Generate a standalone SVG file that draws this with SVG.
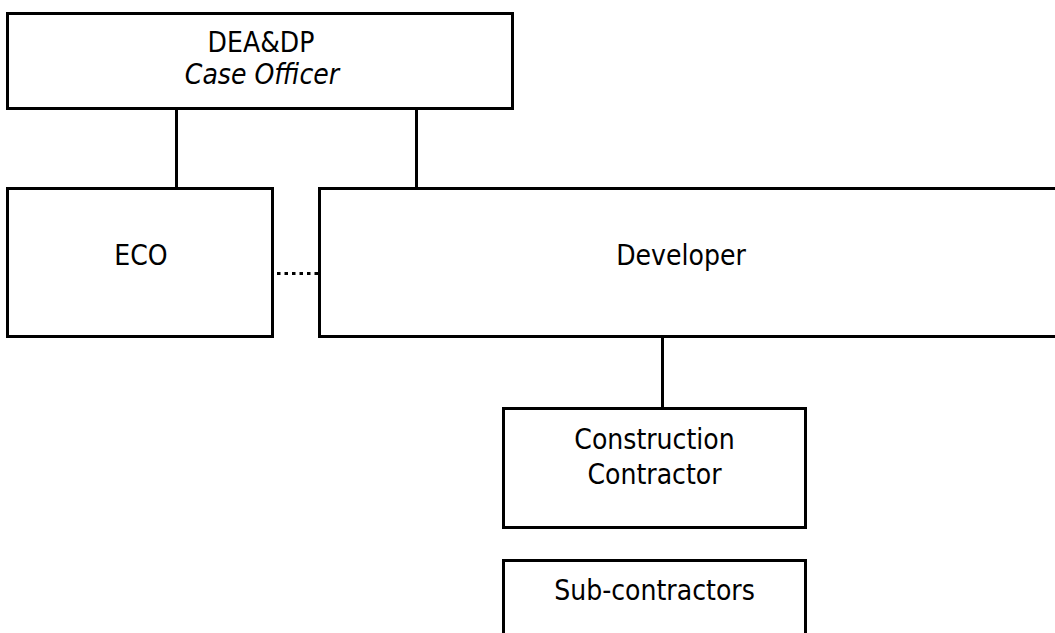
<svg xmlns="http://www.w3.org/2000/svg" width="1055" height="633" viewBox="0 0 1055 633">
<style>
.box{fill:#fff;stroke:#000;stroke-width:3}
.t{font-family:"DejaVu Sans Condensed","DejaVu Sans",sans-serif;font-stretch:condensed;font-size:28px;fill:#000;text-anchor:middle}
.i{font-style:italic}
.c{stroke:#000;stroke-width:3;fill:none}
.d{stroke:#000;stroke-width:3;fill:none;stroke-dasharray:3.5 4}
</style>
<rect width="1055" height="633" fill="#fff"/>
<g id="connectors">
<line class="c" x1="176.5" y1="108" x2="176.5" y2="188"/>
<line class="c" x1="416.5" y1="108" x2="416.5" y2="188"/>
<line class="c" x1="662.5" y1="337" x2="662.5" y2="408"/>
<line class="d" x1="277" y1="273.5" x2="320" y2="273.5"/>
</g>
<g id="deadp">
<rect class="box" x="7.5" y="13.5" width="505" height="95"/>
<text class="t" x="261" y="51.5">DEA&amp;DP</text>
<text class="t i" x="262" y="84">Case Officer</text>
</g>
<g id="eco">
<rect class="box" x="7.5" y="188.5" width="265" height="148"/>
<text class="t" x="141" y="265">ECO</text>
</g>
<g id="developer">
<rect class="box" x="319.5" y="188.5" width="760" height="148"/>
<text class="t" x="681" y="264.5">Developer</text>
</g>
<g id="contractor">
<rect class="box" x="503.5" y="408.5" width="302" height="119"/>
<text class="t" x="654.5" y="448.5">Construction</text>
<text class="t" x="654.5" y="483.5">Contractor</text>
</g>
<g id="subcontractors">
<rect class="box" x="503.5" y="560.5" width="302" height="100"/>
<text class="t" x="654.5" y="599.5">Sub-contractors</text>
</g>
</svg>
